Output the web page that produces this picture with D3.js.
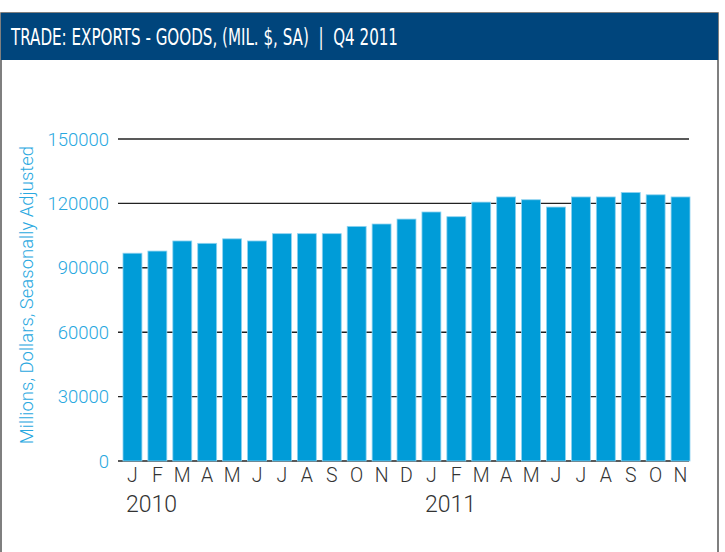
<!DOCTYPE html>
<html>
<head>
<meta charset="utf-8">
<script src="https://cdn.jsdelivr.net/npm/d3@7"></script>
<style>
  body { margin: 0; background: #fff; }
  svg { display: block; }
</style>
</head>
<body>
<svg id="chart" width="725" height="552"></svg>
<script>
// months Jan 2010 .. Nov 2011
let months = ["J", "F", "M", "A", "M", "J", "J", "A", "S", "O", "N", "D",
    "J", "F", "M", "A", "M", "J", "J", "A", "S", "O", "N"]
let exports = [96800, 97800, 102500, 101400, 103500, 102500, 105900, 105900, 105900, 109300, 110400, 112700,
    116000, 113800, 120600, 123000, 121700, 118300, 123000, 123000, 125100, 124000, 123000]
let yTicks = [0, 30000, 60000, 90000, 120000, 150000]
let years = [{ label: "2010", idx: 0 }, { label: "2011", idx: 12 }]

let svg = d3.select('#chart')

// frame
svg.append('rect')
    .attr('x', 1).attr('y', 13)
    .attr('width', 717).attr('height', 545)
    .attr('fill', 'none')
    .attr('stroke', '#555')
    .attr('stroke-width', 1.5)

// header band
svg.append('rect')
    .attr('x', 1).attr('y', 13)
    .attr('width', 717).attr('height', 47)
    .attr('fill', '#00457c')

svg.append('text')
    .attr('x', 11).attr('y', 45)
    .attr('fill', '#fff')
    .style('font-family', '"DejaVu Sans Condensed", "DejaVu Sans", sans-serif')
    .style('font-size', '23px')
    .style('white-space', 'pre')
    .attr('textLength', 387)
    .attr('lengthAdjust', 'spacingAndGlyphs')
    .text('TRADE: EXPORTS - GOODS, (MIL. $, SA)  |  Q4 2011')

let x = d3.scaleBand()
    .domain(d3.range(months.length))
    .range([120, 693])
    .paddingInner(0.24)
    .paddingOuter(0.12)

let y = d3.scaleLinear()
    .domain([0, 150000])
    .range([461, 139])

// gridlines
svg.append('g')
    .selectAll('line')
    .data(yTicks)
    .join('line')
    .attr('x1', 118).attr('x2', 689)
    .attr('y1', d => y(d)).attr('y2', d => y(d))
    .attr('stroke', '#222')
    .attr('stroke-width', 1.4)

// y labels
svg.append('g')
    .selectAll('text')
    .data(yTicks)
    .join('text')
    .attr('x', 109)
    .attr('y', d => y(d))
    .attr('dy', '0.36em')
    .attr('text-anchor', 'end')
    .attr('fill', '#29a8e0')
    .style('font-family', 'Roboto, sans-serif')
    .style('font-weight', 300)
    .style('font-size', '18.5px')
    .text(d => d)

// bars
svg.append('g')
    .selectAll('rect')
    .data(exports)
    .join('rect')
    .attr('x', (d, i) => x(i))
    .attr('width', x.bandwidth())
    .attr('y', d => y(d))
    .attr('height', d => y(0) - y(d))
    .attr('fill', '#009cd8')
    .attr('stroke', '#8fd3f0')
    .attr('stroke-width', 0.8)

// month labels
svg.append('g')
    .selectAll('text')
    .data(months)
    .join('text')
    .attr('x', (d, i) => x(i) + x.bandwidth() / 2)
    .attr('y', 482)
    .attr('text-anchor', 'middle')
    .attr('fill', '#333')
    .style('font-family', 'Roboto, sans-serif')
    .style('font-weight', 300)
    .style('font-size', '19.5px')
    .text(d => d)

// year labels
svg.append('g')
    .selectAll('text')
    .data(years)
    .join('text')
    .attr('x', d => x(d.idx) + 3)
    .attr('y', 512)
    .attr('fill', '#333')
    .style('font-family', 'Roboto, sans-serif')
    .style('font-weight', 300)
    .style('font-size', '23px')
    .text(d => d.label)

// y axis title
svg.append('text')
    .attr('transform', 'translate(33,295) rotate(-90)')
    .attr('text-anchor', 'middle')
    .attr('fill', '#29a8e0')
    .style('font-family', 'Roboto, sans-serif')
    .style('font-weight', 300)
    .style('font-size', '18.5px')
    .text('Millions, Dollars, Seasonally Adjusted')
</script>
</body>
</html>
